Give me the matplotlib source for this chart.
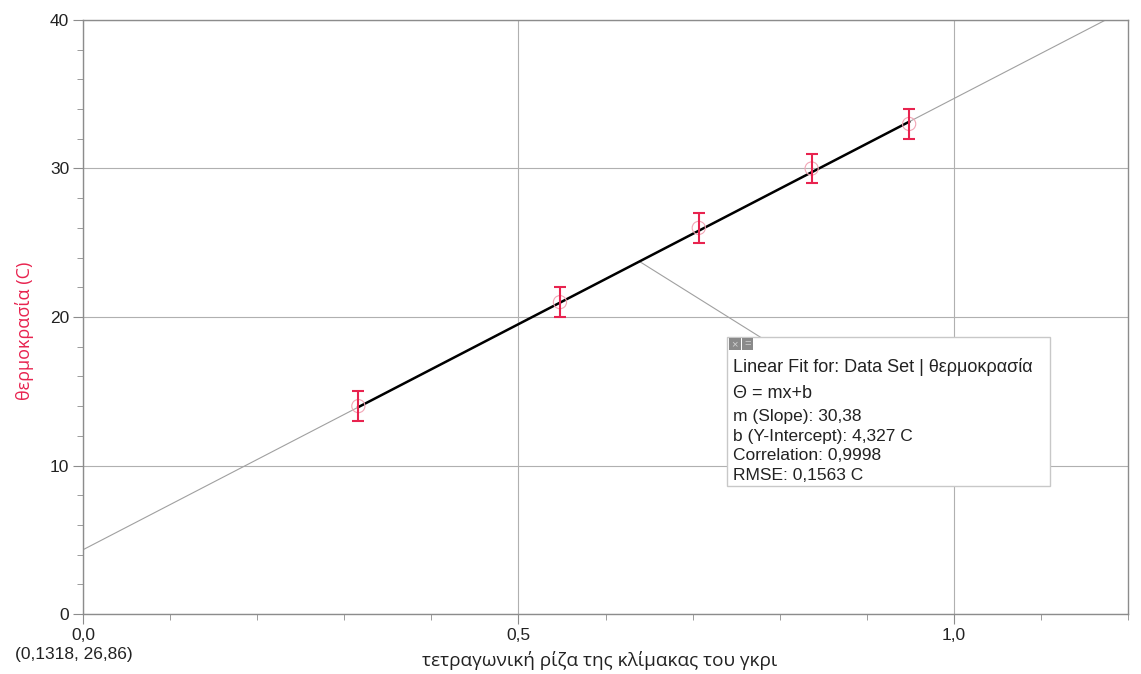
import numpy as np
import matplotlib
matplotlib.use("Agg")
import matplotlib.pyplot as plt
from matplotlib.ticker import MultipleLocator, FuncFormatter
from matplotlib.patches import Rectangle

plt.rcParams["font.family"] = ["Liberation Sans", "DejaVu Sans"]

# data: sqrt of grey-scale level vs temperature
x_vals = [0.3162, 0.5477, 0.7071, 0.8367, 0.9487]
temps = [14, 21, 26, 30, 33]
errs = [1, 1, 1, 1, 1]
slope = 30.38
intercept = 4.327

fit_lines = [
    "Linear Fit for: Data Set | θερμοκρασία",
    "Θ = mx+b",
    "m (Slope): 30,38",
    "b (Y-Intercept): 4,327 C",
    "Correlation: 0,9998",
    "RMSE: 0,1563 C",
]

red = "#e8234f"
grey = "#8c8c8c"
W, H = 1141, 674

fig = plt.figure(figsize=(W / 100, H / 100), dpi=100)
ax = fig.add_axes([83 / W, 1 - 614 / H, (1128 - 83) / W, (614 - 20) / H])
ax.set_xlim(0, 1.2)
ax.set_ylim(0, 40)

ax.xaxis.set_major_locator(MultipleLocator(0.5))
ax.xaxis.set_minor_locator(MultipleLocator(0.1))
ax.yaxis.set_major_locator(MultipleLocator(10))
ax.yaxis.set_minor_locator(MultipleLocator(2))
ax.xaxis.set_major_formatter(FuncFormatter(lambda v, p: f"{v:.1f}".replace(".", ",")))
ax.yaxis.set_major_formatter(FuncFormatter(lambda v, p: f"{v:.0f}"))
ax.tick_params(which="major", length=7, color=grey, labelsize=12.5, pad=3, labelcolor="#222222")
ax.tick_params(which="minor", length=4, color=grey)
ax.grid(which="major", color="#b0b0b0", linewidth=0.8)
for s in ax.spines.values():
    s.set_color(grey)
    s.set_linewidth(1.0)

# full thin fit line and bold fitted segment
xx = np.array([0, 1.2])
ax.plot(xx, slope * xx + intercept, color="#a0a0a0", linewidth=0.8, zorder=2)
xs = np.array([x_vals[0], x_vals[-1]])
ax.plot(xs, slope * xs + intercept, color="black", linewidth=1.8, zorder=3)

ax.errorbar(x_vals, temps, yerr=errs, fmt="none", ecolor=red, elinewidth=1.5,
            capsize=4, capthick=1.5, zorder=4)
ax.scatter(x_vals, temps, s=90, facecolors="none", edgecolors="#f2a5b5",
           linewidths=0.8, zorder=3)

# annotation leader line
ax.plot([0.639, 0.779], [slope * 0.639 + intercept, 18.6], color="#a0a0a0",
        linewidth=0.8, zorder=2)

# fit info box
bx0, by0 = (727 - 83) / 1045, (614 - 486) / 594
bw, bh = (1050 - 727) / 1045, (486 - 337) / 594
ax.add_patch(Rectangle((bx0, by0), bw, bh, transform=ax.transAxes,
                       facecolor="white", edgecolor="#c8c8c8", linewidth=1, zorder=5))
ax.add_patch(Rectangle((bx0 + 0.002, by0 + bh - 0.022), 0.011, 0.02, transform=ax.transAxes,
                       facecolor="#8a8a8a", edgecolor="none", zorder=6))
ax.add_patch(Rectangle((bx0 + 0.014, by0 + bh - 0.022), 0.011, 0.02, transform=ax.transAxes,
                       facecolor="#8a8a8a", edgecolor="none", zorder=6))
ax.text(bx0 + 0.0075, by0 + bh - 0.012, "×", transform=ax.transAxes, color="#d0d0d0",
        fontsize=8, ha="center", va="center", zorder=7)
ax.text(bx0 + 0.0195, by0 + bh - 0.012, "=", transform=ax.transAxes, color="#d0d0d0",
        fontsize=8, ha="center", va="center", zorder=7)

line_y = [367, 393, 416, 436, 456, 475]
for t, py in zip(fit_lines, line_y):
    ax.text((733 - 83) / 1045, (614 - py) / 594, t, transform=ax.transAxes,
            fontsize=13 if py < 400 else 12.5, color="#222222", va="center", zorder=7)

# axis titles placed in figure pixels
fig.text(25 / W, 1 - 331 / H, "θερμοκρασία (C)", color=red, fontsize=13,
         family=["Open Sans", "DejaVu Sans"], rotation=90, ha="center", va="center")
fig.text(600 / W, 1 - 661 / H, "τετραγωνική ρίζα της κλίμακας του γκρι", fontsize=13.7,
         family=["Open Sans", "DejaVu Sans"], color="#222222", ha="center", va="center")
fig.text(15 / W, 1 - 655 / H, "(0,1318, 26,86)", fontsize=12.5, color="#222222", va="center")

fig.savefig("out.png", dpi=100)
